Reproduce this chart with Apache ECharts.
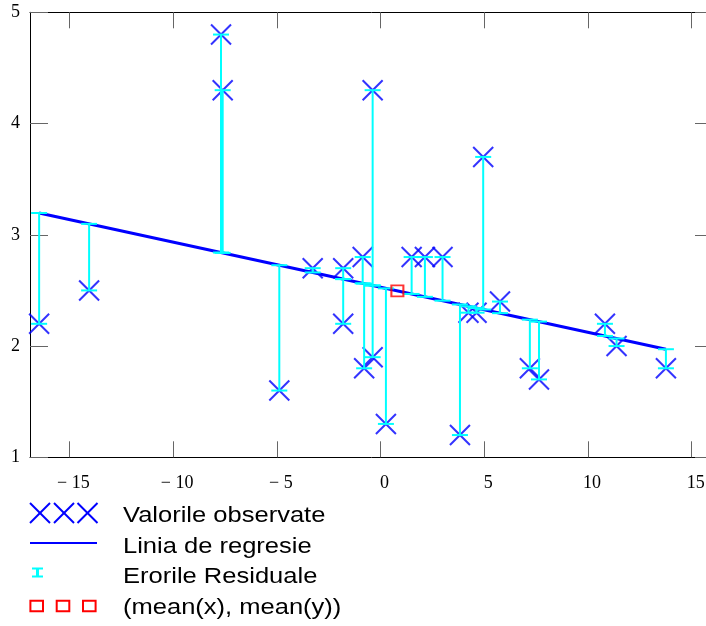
<!DOCTYPE html>
<html>
<head>
<meta charset="utf-8">
<title>Regresie liniara</title>
<script src="https://cdn.jsdelivr.net/npm/echarts@6/dist/echarts.min.js"></script>
<style>
  html, body { margin: 0; padding: 0; background: #ffffff; overflow: hidden; }
  /* the plot frame runs a few pixels past the right edge of the window */
  #chart { width: 720px; height: 626px; }
</style>
</head>
<body>
<div id="chart"></div>
<script>
// Observed values (x, y)
const xObs = [-16.46, -14.05, -7.69, -7.61, -4.88, -3.27, -1.8, -1.8, -0.86, -0.79, -0.38, -0.38, 0.26,
              1.5, 2.14, 2.99, 3.83, 4.24, 4.63, 4.95, 5.76, 7.2, 7.64, 10.82, 11.38, 13.76];
const yObs = [2.2, 2.5, 4.8, 4.3, 1.6, 2.7, 2.7, 2.2, 2.8, 1.8, 1.9, 4.3, 1.3,
              2.8, 2.8, 2.8, 1.2, 2.3, 2.3, 3.7, 2.4, 1.8, 1.7, 2.2, 2.0, 1.8];

// Axis ticks
const xTicks = [-15, -10, -5, 0, 5, 10, 15];
const yTicks = [1, 2, 3, 4, 5];

// Legend texts
const legendLabels = ['Valorile observate', 'Linia de regresie', 'Erorile Residuale', '(mean(x), mean(y))'];

// Least-squares fit of y on x
const n = xObs.length;
const meanX = xObs.reduce((a, b) => a + b, 0) / n;
const meanY = yObs.reduce((a, b) => a + b, 0) / n;
let sxy = 0, sxx = 0;
for (let i = 0; i < n; i++) {
  sxy += (xObs[i] - meanX) * (yObs[i] - meanY);
  sxx += (xObs[i] - meanX) * (xObs[i] - meanX);
}
const slope = sxy / sxx;
const intercept = meanY - slope * meanX;
const fit = x => intercept + slope * x;

const xLo = Math.min(...xObs), xHi = Math.max(...xObs);
const observed = xObs.map((x, i) => [x, yObs[i]]);
const regLine = [[xLo, fit(xLo)], [xHi, fit(xHi)]];
const residuals = xObs.map((x, i) => [x, yObs[i], fit(x)]);

const BLUE = '#0000ff', CYAN = '#00ffff', RED = '#ff0000';
const SERIF = '"Liberation Serif", "DejaVu Serif", serif';
const SANS = '"Liberation Sans", Arial, sans-serif';

const fmtX = v => (v < 0 ? '\u2212 ' + Math.abs(v) : String(v));

const xAxisBase = {
  type: 'value', min: -16.9, max: 16.03,
  splitLine: { show: false },
  axisLine: { show: true, onZero: false, lineStyle: { color: '#000', width: 1 } },
  axisTick: { show: true, inside: true, length: 16, customValues: xTicks, lineStyle: { color: '#666', width: 1 } }
};
const yAxisBase = {
  type: 'value', min: 1, max: 5, interval: 1,
  splitLine: { show: false },
  axisLine: { show: true, onZero: false, lineStyle: { color: '#000', width: 1 } },
  axisTick: { show: true, inside: true, length: 18, lineStyle: { color: '#666', width: 1 } }
};

// Legend rows drawn as graphics
const rowY = [513, 543, 572.5, 606];
const textY = [516, 547, 577, 608];
const legendGraphics = [];
[40, 64, 87.5].forEach(cx => {
  legendGraphics.push({
    type: 'polyline', shape: { points: [[cx - 10, rowY[0] - 10], [cx + 10, rowY[0] + 10]] },
    style: { stroke: BLUE, lineWidth: 2 }
  }, {
    type: 'polyline', shape: { points: [[cx + 10, rowY[0] - 10], [cx - 10, rowY[0] + 10]] },
    style: { stroke: BLUE, lineWidth: 2 }
  });
});
legendGraphics.push({
  type: 'line', shape: { x1: 30, y1: rowY[1], x2: 97, y2: rowY[1] },
  style: { stroke: BLUE, lineWidth: 2 }
});
legendGraphics.push(
  { type: 'line', shape: { x1: 32, y1: rowY[2] - 4, x2: 43, y2: rowY[2] - 4 }, style: { stroke: CYAN, lineWidth: 2 } },
  { type: 'line', shape: { x1: 32, y1: rowY[2] + 4, x2: 43, y2: rowY[2] + 4 }, style: { stroke: CYAN, lineWidth: 2 } },
  { type: 'line', shape: { x1: 37.5, y1: rowY[2] - 4, x2: 37.5, y2: rowY[2] + 4 }, style: { stroke: CYAN, lineWidth: 3 } }
);
[36.7, 63, 89.3].forEach(cx => {
  legendGraphics.push({
    type: 'rect', shape: { x: cx - 6.3, y: rowY[3] - 5.2, width: 12.6, height: 10.4 },
    style: { fill: 'none', stroke: RED, lineWidth: 2 }
  });
});
legendLabels.forEach((t, i) => {
  legendGraphics.push({
    type: 'text', x: 123, y: textY[i], scaleX: 1.16, originX: 0,
    style: { text: t, fill: '#000', font: '22px ' + SANS, verticalAlign: 'middle', align: 'left' }
  });
});

const chart = echarts.init(document.getElementById('chart'), null, { renderer: 'canvas' });
chart.setOption({
  animation: false,
  backgroundColor: '#ffffff',
  grid: { left: 30, top: 12.3, right: 7, height: 445, containLabel: false },
  xAxis: [
    Object.assign({}, xAxisBase, {
      position: 'bottom',
      axisLabel: {
        show: true, customValues: xTicks, formatter: fmtX, margin: 17, padding: [0, 0, 0, 8],
        color: '#000', fontFamily: SERIF, fontSize: 18
      }
    }),
    Object.assign({}, xAxisBase, { position: 'top', axisLabel: { show: false } })
  ],
  yAxis: [
    Object.assign({}, yAxisBase, {
      position: 'left',
      axisLabel: { show: true, margin: 10, padding: [8, 0, 0, 0], color: '#000', fontFamily: SERIF, fontSize: 18 }
    }),
    Object.assign({}, yAxisBase, { position: 'right', axisLabel: { show: false } })
  ],
  series: [
    {
      name: legendLabels[1], type: 'line', data: regLine, z: 1,
      symbol: 'none', lineStyle: { color: BLUE, width: 3 }, silent: true
    },
    {
      name: legendLabels[0], type: 'scatter', data: observed, z: 2,
      symbol: 'path://M0,0L10,10M10,0L0,10', symbolSize: 20,
      itemStyle: { color: 'none', borderColor: BLUE, borderWidth: 2 }
    },
    {
      name: legendLabels[2], type: 'custom', data: residuals, z: 3,
      renderItem: function (params, api) {
        const p1 = api.coord([api.value(0), api.value(1)]);
        const p2 = api.coord([api.value(0), api.value(2)]);
        const hw = 8;
        const st = { stroke: CYAN, lineWidth: 2 };
        return {
          type: 'group',
          children: [
            { type: 'line', shape: { x1: p1[0], y1: p1[1], x2: p2[0], y2: p2[1] }, style: st },
            { type: 'line', shape: { x1: p1[0] - hw, y1: p1[1], x2: p1[0] + hw, y2: p1[1] }, style: st },
            { type: 'line', shape: { x1: p2[0] - hw, y1: p2[1], x2: p2[0] + hw, y2: p2[1] }, style: st }
          ]
        };
      }
    },
    {
      name: legendLabels[3], type: 'scatter', data: [[meanX, meanY]], z: 4,
      symbol: 'rect', symbolSize: [12, 11],
      itemStyle: { color: 'rgba(0,0,0,0)', borderColor: RED, borderWidth: 2 }
    }
  ],
  graphic: legendGraphics
});
</script>
</body>
</html>
